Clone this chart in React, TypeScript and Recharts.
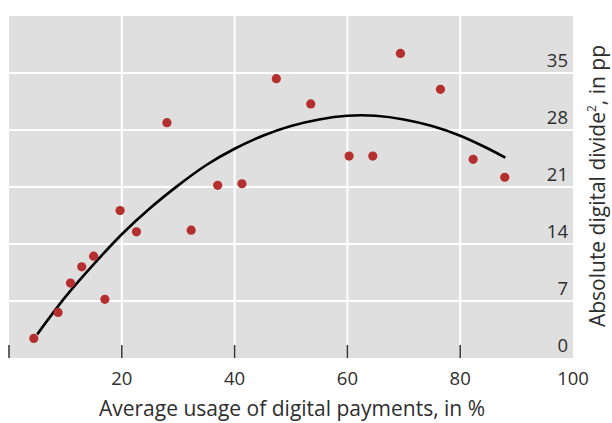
import React from 'react';
import {
  ComposedChart,
  Scatter,
  Line,
  XAxis,
  YAxis,
  ReferenceArea,
  ReferenceLine,
} from 'recharts';

// Scatter points: average usage of digital payments (%) vs absolute digital divide (pp)
const usage = [4.4, 8.7, 10.9, 12.9, 15.0, 17.0, 19.7, 22.6, 28.0, 32.3, 37.0, 41.3, 47.4, 53.5, 60.3, 64.5, 69.4, 76.5, 82.3, 87.9];
const divide = [2.4, 5.6, 9.2, 11.2, 12.5, 7.2, 18.1, 15.5, 28.9, 15.7, 21.2, 21.4, 34.3, 31.2, 24.8, 24.8, 37.4, 33.0, 24.4, 22.2];

// Fitted curve
const fitX = [5, 10, 15, 20, 25, 30, 35, 40, 45, 50, 55, 60, 65, 70, 75, 80, 85, 88];
const fitY = [2.9, 7.5, 11.5, 15.2, 18.4, 21.2, 23.7, 25.7, 27.3, 28.5, 29.3, 29.75, 29.75, 29.3, 28.5, 27.3, 25.7, 24.6];

const xTicks = [0, 20, 40, 60, 80, 100];
const yTicks = [0, 7, 14, 21, 28, 35];
const xGrid = [20, 40, 60, 80];
const yGrid = [7, 14, 21, 28, 35];

const xTitle = 'Average usage of digital payments, in %';
const yTitleMain = 'Absolute digital divide';
const yTitleSup = '2';
const yTitleEnd = ', in pp';

const points = usage.map((x, i) => ({ x, y: divide[i] }));
const curve = fitX.map((x, i) => ({ x, y: fitY[i] }));

const FONT = '"Open Sans", "Noto Sans", sans-serif';
const TEXT = '#2e2e2e';

const XTick = (props: any) => {
  const { x, y, payload } = props;
  const v = payload.value;
  return (
    <g>
      {v !== 100 && (
        <line x1={x} x2={x} y1={y - 13} y2={y} stroke="#333" strokeWidth={1.5} />
      )}
      {v !== 0 && (
        <text x={x} y={y + 27} textAnchor="middle" fontSize={18.5} fontFamily={FONT} fill={TEXT}>
          {v}
        </text>
      )}
    </g>
  );
};

const YTick = (props: any) => {
  const { x, y, payload } = props;
  return (
    <text x={x - 5} y={y - 6} textAnchor="end" fontSize={18.5} fontFamily={FONT} fill={TEXT}>
      {payload.value}
    </text>
  );
};

const XTitle = () => (
  <text x={292} y={416} textAnchor="middle" fontSize={21} fontFamily={FONT} fill={TEXT}>
    {xTitle}
  </text>
);

const YTitle = () => (
  <text
    transform="translate(605,186) rotate(-90)"
    textAnchor="middle"
    fontSize={21}
    fontFamily={FONT}
    fill={TEXT}
  >
    {yTitleMain}
    <tspan fontSize={12} dy={-9}>{yTitleSup}</tspan>
    <tspan dy={9}>{yTitleEnd}</tspan>
  </text>
);

export default function App() {
  return (
    <div style={{ position: 'absolute', left: 0, top: 0, width: 612, height: 423, background: '#fff' }}>
      <ComposedChart
        width={612}
        height={423}
        margin={{ top: 16, right: 0, bottom: 0, left: 9 }}
      >
        <XAxis
          dataKey="x"
          type="number"
          domain={[0, 100]}
          ticks={xTicks}
          interval={0}
          axisLine={false}
          tickLine={false}
          tickSize={0}
          tickMargin={0}
          height={65}
          tick={<XTick />}
          label={XTitle}
        />
        <YAxis
          dataKey="y"
          type="number"
          orientation="right"
          domain={[0, 42]}
          ticks={yTicks}
          interval={0}
          axisLine={false}
          tickLine={false}
          tickSize={0}
          tickMargin={0}
          width={39}
          tick={<YTick />}
          label={YTitle}
        />
        <ReferenceArea x1={0} x2={100} y1={0} y2={42} fill="#dfdfdf" fillOpacity={1} stroke="none" />
        {xGrid.map((v) => (
          <ReferenceLine key={'vx' + v} x={v} stroke="#ffffff" strokeWidth={2} />
        ))}
        {yGrid.map((v) => (
          <ReferenceLine key={'hy' + v} y={v} stroke="#ffffff" strokeWidth={2} />
        ))}
        <Line
          data={curve}
          dataKey="y"
          type="natural"
          stroke="#000000"
          strokeWidth={2.6}
          dot={false}
          activeDot={false}
          isAnimationActive={false}
        />
        <Scatter
          data={points}
          dataKey="y"
          fill="#b52f2f"
          isAnimationActive={false}
          shape={(p: any) => <circle cx={p.cx} cy={p.cy} r={4.6} fill="#b52f2f" />}
        />
      </ComposedChart>
    </div>
  );
}
